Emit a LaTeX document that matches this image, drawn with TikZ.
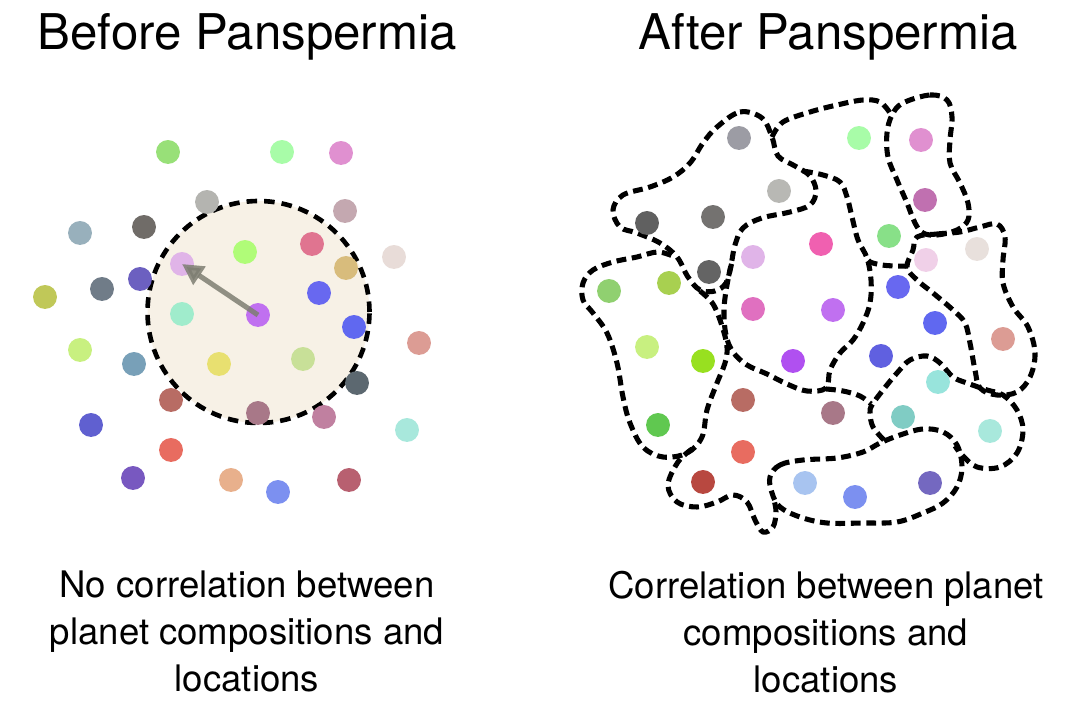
\documentclass[tikz,border=0pt]{standalone}
\usepackage{fontspec}
\setmainfont{TeX Gyre Heros}
\usetikzlibrary{arrows.meta}
\newcommand\pdot[4]{\definecolor{pdotcol}{HTML}{#4}\node[planet,fill=pdotcol] (#1) at (#2,#3) {};}
\begin{document}
\begin{tikzpicture}[x=0.025cm,y=-0.025cm,
  planet/.style={circle,draw=none,minimum size=17pt,inner sep=0pt},
  zoneline/.style={line width=3.3pt,dash pattern=on 7.5pt off 5pt},
  blob/.style={line width=3.6pt,dash pattern=on 7pt off 4pt},
  title/.style={font=\fontsize{35}{40}\selectfont,anchor=base},
  caption/.style={font=\fontsize{26}{33.5}\selectfont,align=center,anchor=north}]
\useasboundingbox[fill=white] (0,0) rectangle (1080,720);

% titles
\node[title] (t1) at (247,50) {Before Panspermia};
\node[title] (t2) at (828,50) {After Panspermia};

% left panel
\definecolor{zonefill}{HTML}{F7F1E6}
\node[circle,fill=zonefill,draw=black,zoneline,minimum size=222*0.025cm,inner sep=0pt] (zone) at (258.5,312) {};

\pdot{L1}{168}{152}{98E078}
\pdot{L2}{282}{152}{A8FCA8}
\pdot{L3}{341}{153}{E090D0}
\pdot{L4}{207}{202}{B4B4B0}
\pdot{L5}{345}{211}{C4A8B0}
\pdot{L6}{80}{233}{98B0BC}
\pdot{L7}{144}{227}{706C68}
\pdot{L8}{245}{252}{B0FC78}
\pdot{L9}{312}{244}{E07490}
\pdot{L10}{394}{257}{E8DCD8}
\pdot{L11}{182}{264}{E0B4E8}
\pdot{L12}{346}{268}{D8BC7C}
\pdot{L13}{140}{279}{6C60C0}
\pdot{L14}{102}{289}{707C88}
\pdot{L15}{45}{297}{C0C858}
\pdot{L16}{319}{293}{6868F0}
\pdot{L17}{258}{315}{C070F0}
\pdot{L18}{182}{314}{A0ECCC}
\pdot{L19}{354}{327}{6068F0}
\pdot{L20}{419}{343}{DC9C94}
\pdot{L21}{80}{350}{C8F080}
\pdot{L22}{134}{364}{78A0B8}
\pdot{L23}{219}{364}{E8E070}
\pdot{L24}{303}{359}{C8E098}
\pdot{L25}{357}{383}{5C6870}
\pdot{L26}{171}{400}{B86C64}
\pdot{L27}{258}{413}{A87888}
\pdot{L28}{324}{417}{C080A0}
\pdot{L29}{91}{425}{6060D0}
\pdot{L30}{407}{430}{A8E8DC}
\pdot{L31}{171}{450}{E86C60}
\pdot{L32}{133}{478}{7858C0}
\pdot{L33}{231}{480}{E8B08C}
\pdot{L34}{278}{492}{7C90F0}
\pdot{L35}{349}{480}{B86070}

\definecolor{arrowgray}{HTML}{7E7E72}
\draw[arrowgray,opacity=0.85,line width=3.6pt,-{Triangle[length=15pt,width=15pt]}] (L17.center) -- (L11.center);

% right panel: region boundaries (each shared border drawn once)
% grey region
\draw[blob] plot[smooth cycle,tension=0.6] coordinates {(717,127) (740,112) (762,118) (772,137) (778,156) (795,166) (810,176) (816,191) (810,205) (790,212) (762,218) (743,228) (735,245) (731,265) (726,283) (715,291) (700,290) (688,277) (677,257) (660,243) (637,233) (620,227) (613,210) (623,195) (650,187) (673,177) (690,163) (703,143)};
% central region (right, bottom and left borders)
\draw[blob] plot[smooth,tension=0.6] coordinates {(803,171) (823,175) (840,182) (847,197) (852,217) (858,240) (867,258) (871,280) (870,303) (863,323) (853,340) (840,353) (830,370) (826,388) (807,391) (787,384) (767,374) (747,365) (733,352) (726,335) (724,310) (727,285) (732,262)};
% top green region: top border and lower border
\draw[blob] plot[smooth,tension=0.6] coordinates {(772,137) (783,122) (810,112) (837,105) (863,100) (880,102) (890,113)};
\draw[blob] plot[smooth,tension=0.6] coordinates {(908,266) (895,266) (882,265) (870,262) (867,258)};
% pink column
\draw[blob] plot[smooth cycle,tension=0.6] coordinates {(903,103) (930,95) (947,100) (952,117) (950,140) (950,163) (960,183) (968,203) (968,220) (957,230) (937,235) (923,233) (915,223) (907,203) (897,180) (888,157) (887,133) (892,115)};
% beige / salmon region
\draw[blob] plot[smooth cycle,tension=0.6] coordinates {(917,237) (937,234) (960,232) (980,227) (997,224) (1005,237) (1003,260) (1003,283) (1013,307) (1028,327) (1035,353) (1030,377) (1017,392) (997,395) (980,388) (975,370) (970,343) (965,323) (953,310) (933,293) (917,280) (907,267) (913,250)};
% teal region
\draw[blob] plot[smooth,tension=0.6] coordinates {(884,440) (873,427) (870,413) (872,405) (883,390) (897,373) (910,360) (927,356) (940,363) (953,377) (967,383) (987,390) (1003,395) (1017,410) (1023,430) (1017,453) (1000,467) (977,467) (962,455) (955,446)};
% bottom blue region
\draw[blob] plot[smooth cycle,tension=0.6] coordinates {(770,477) (780,465) (803,460) (837,458) (863,452) (880,443) (900,435) (923,429) (943,432) (957,445) (962,467) (957,487) (943,503) (923,513) (897,522) (863,523) (827,523) (800,517) (780,507) (772,493)};
% brown region: bottom border with tail, and upper right border
\draw[blob] plot[smooth,tension=0.6] coordinates {(692,449) (678,462) (668,485) (677,502) (697,507) (717,502) (733,495) (747,502) (755,520) (763,532) (773,527) (776,512) (774,500)};
\draw[blob] plot[smooth,tension=0.6] coordinates {(826,389) (843,391) (860,396) (871,404)};
% green left region (its upper right border is the grey region's)
\draw[blob] plot[smooth,tension=0.6] coordinates {(700,291) (713,304) (722,326) (727,347) (725,363) (717,383) (707,410) (702,437) (687,453) (663,457) (643,447) (630,423) (623,397) (617,363) (607,333) (593,313) (583,300) (583,283) (593,270) (613,262) (637,257) (658,252) (675,257)};

% right panel planets
\pdot{R1}{739}{138}{9C9CA4}
\pdot{R2}{859}{138}{A8FCA8}
\pdot{R3}{921}{140}{E090D0}
\pdot{R4}{779}{191}{B8B8B4}
\pdot{R5}{925}{200}{C070B0}
\pdot{R6}{647}{223}{606060}
\pdot{R7}{713}{217}{747270}
\pdot{R8}{889}{236}{88E088}
\pdot{R9}{821}{244}{F060B0}
\pdot{R10}{753}{257}{E0B4E8}
\pdot{R11}{926}{260}{F0D0E8}
\pdot{R12}{977}{249}{E8E0DC}
\pdot{R13}{709}{272}{646464}
\pdot{R14}{609}{291}{90D070}
\pdot{R15}{669}{283}{A8D050}
\pdot{R16}{898}{287}{6868F0}
\pdot{R17}{753}{309}{E070C0}
\pdot{R18}{833}{310}{C070F0}
\pdot{R19}{935}{323}{6068F0}
\pdot{R20}{1003}{339}{DC9C94}
\pdot{R21}{647}{347}{C8F080}
\pdot{R22}{703}{361}{98E020}
\pdot{R23}{793}{361}{B050F0}
\pdot{R24}{881}{356}{6060E0}
\pdot{R25}{938}{382}{98E4DC}
\pdot{R26}{743}{400}{B86C64}
\pdot{R27}{833}{413}{A87888}
\pdot{R28}{903}{417}{80CCC4}
\pdot{R29}{990}{431}{A8E8DC}
\pdot{R30}{658}{425}{60C850}
\pdot{R31}{743}{452}{E86C60}
\pdot{R32}{703}{482}{B84840}
\pdot{R33}{805}{483}{A8C4F0}
\pdot{R34}{855}{497}{7C90F0}
\pdot{R35}{930}{483}{7468C0}

% captions
\node[caption] (c1) at (247,566) {No correlation between\\planet compositions and\\locations};
\node[caption] (c2) at (826,566) {Correlation between planet\\compositions and\\locations};
\end{tikzpicture}
\end{document}
